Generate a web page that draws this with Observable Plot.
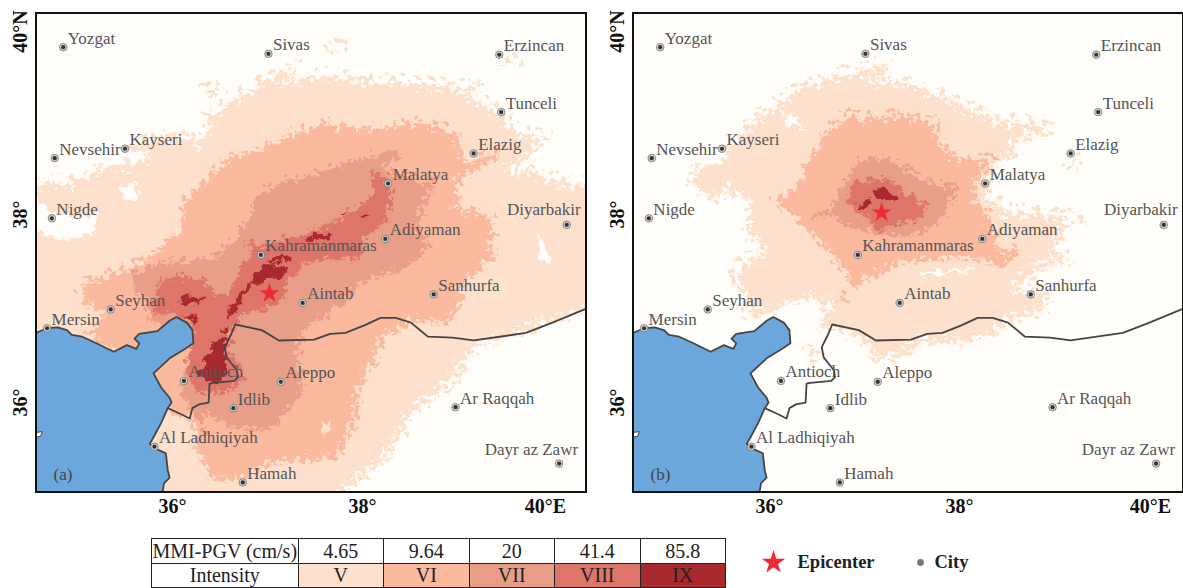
<!DOCTYPE html>
<html><head><meta charset="utf-8">
<script src="https://cdn.jsdelivr.net/npm/d3@7"></script>
<script src="https://cdn.jsdelivr.net/npm/@observablehq/plot@0.6"></script>
<style>
html,body{margin:0;padding:0;background:#fff;overflow:hidden;width:1183px;height:588px}
#row{position:absolute;left:0;top:0;display:flex}
.zone{filter:url(#rough)}
.speckA{filter:url(#speckA)}
.speckB{filter:url(#speckB)}
table{position:absolute;left:151px;top:537.5px;width:575px;border-collapse:collapse;font:20px/22px "Liberation Serif",serif;color:#222;table-layout:fixed}
td{border:1px solid #222;padding:0;height:24px;text-align:center;box-sizing:border-box;overflow:hidden}
td:first-child{width:146.5px;white-space:nowrap}
#keys{position:absolute;left:750px;top:540px}
</style></head><body>
<svg width="0" height="0" style="position:absolute">
<filter id="rough" x="-5%" y="-5%" width="110%" height="110%" color-interpolation-filters="sRGB"><feTurbulence type="fractalNoise" baseFrequency="0.13" numOctaves="3" seed="7" result="n"/><feDisplacementMap in="SourceGraphic" in2="n" scale="13" xChannelSelector="R" yChannelSelector="G"/></filter>
<filter id="speckA" x="-5%" y="-5%" width="110%" height="110%" color-interpolation-filters="sRGB"><feTurbulence type="fractalNoise" baseFrequency="0.2" numOctaves="2" seed="11" result="n"/><feDisplacementMap in="SourceGraphic" in2="n" scale="12" xChannelSelector="R" yChannelSelector="G" result="d"/><feColorMatrix in="n" type="matrix" values="0 0 0 0 0  0 0 0 0 0  0 0 0 0 0  14 0 0 0 -7.8" result="m"/><feComposite in="d" in2="m" operator="in"/></filter>
<filter id="speckB" x="-5%" y="-5%" width="110%" height="110%" color-interpolation-filters="sRGB"><feTurbulence type="fractalNoise" baseFrequency="0.16" numOctaves="2" seed="23" result="n"/><feDisplacementMap in="SourceGraphic" in2="n" scale="12" xChannelSelector="G" yChannelSelector="R" result="d"/><feColorMatrix in="n" type="matrix" values="0 0 0 0 0  0 0 0 0 0  0 0 0 0 0  14 0 0 0 -7.8" result="m"/><feComposite in="d" in2="m" operator="in"/></filter>
</svg>
<div id="row"></div>
<table id="tbl"></table>
<div id="keys"></div>
<script>
const cityNames=["Yozgat","Sivas","Erzincan","Tunceli","Elazig","Kayseri","Nevsehir","Malatya","Nigde","Diyarbakir","Adiyaman","Kahramanmaras","Aintab","Sanhurfa","Seyhan","Mersin","Antioch","Aleppo","Idlib","Ar Raqqah","Al Ladhiqiyah","Dayr az Zawr","Hamah"];
const cityLon=[34.85,37.01,39.44,39.46,39.17,35.50,34.76,38.27,34.73,40.15,38.24,36.93,37.37,38.75,35.35,34.68,36.12,37.14,36.64,38.98,35.81,40.07,36.74];
const cityLat=[39.78,39.71,39.70,39.09,38.65,38.70,38.60,38.33,37.96,37.89,37.74,37.57,37.06,37.15,36.99,36.79,36.23,36.22,35.94,35.95,35.53,35.35,35.15];

const coast=[[34.56,36.74],[34.68,36.79],[34.79,36.80],[34.89,36.77],[34.94,36.72],[35.05,36.70],[35.20,36.63],[35.38,36.54],[35.52,36.61],[35.62,36.57],[35.65,36.63],[35.60,36.68],[35.65,36.73],[35.84,36.76],[35.97,36.87],[36.04,36.91],[36.15,36.85],[36.21,36.77],[36.22,36.63],[36.13,36.57],[35.97,36.47],[35.80,36.31],[35.88,36.16],[35.97,36.05],[35.99,36.00],[35.95,35.94],[35.88,35.78],[35.80,35.63],[35.76,35.56],[35.82,35.51],[35.93,35.46],[35.95,35.28],[35.97,35.20],[35.91,35.14],[35.89,35.01]];
const seaClosure=[[34.4,35.01],[34.4,36.74]];
const islet=[[34.55,35.68],[34.63,35.69],[34.61,35.64],[34.55,35.63]];
const border=[[35.95,35.94],[36.08,35.88],[36.18,35.83],[36.21,35.94],[36.28,35.98],[36.38,36.00],[36.39,36.20],[36.43,36.21],[36.65,36.23],[36.69,36.27],[36.68,36.34],[36.57,36.48],[36.55,36.59],[36.61,36.71],[36.66,36.83],[36.94,36.77],[37.12,36.66],[37.49,36.67],[37.66,36.73],[37.82,36.74],[38.02,36.82],[38.19,36.90],[38.35,36.90],[38.51,36.85],[38.69,36.70],[38.95,36.69],[39.17,36.66],[39.72,36.74],[40.00,36.85],[40.36,37.00]];

// panel (a)
const aV=[[[34.45,38.29],[34.72,38.33],[35.00,38.36],[35.24,38.50],[35.60,38.54],[35.73,38.61],[35.53,38.71],[35.80,38.82],[36.08,38.84],[36.37,38.86],[36.37,39.03],[36.69,39.24],[37.01,39.46],[37.32,39.56],[37.18,39.43],[37.62,39.48],[38.06,39.43],[38.63,39.39],[39.23,39.34],[39.12,39.24],[39.43,39.11],[39.64,38.86],[39.92,38.82],[39.72,38.57],[39.56,38.50],[40.16,38.33],[40.46,38.33],[40.46,37.03],[39.76,36.77],[39.19,36.59],[38.95,36.23],[38.75,36.05],[38.51,35.88],[38.39,35.63],[38.22,35.38],[37.82,35.06],[37.62,34.90],[35.80,34.90],[34.45,34.90]],
[[36.33,39.32],[36.48,39.34],[36.42,39.27]],[[39.47,39.67],[39.64,39.61],[39.51,39.62]],[[37.66,39.79],[37.77,39.77],[37.68,39.76]]];
const aHoles=[[[34.45,38.26],[34.76,38.01],[35.04,37.97],[35.22,38.01],[35.16,37.80],[34.87,37.72],[34.63,37.81],[34.45,37.85]],[[35.44,38.29],[35.60,38.36],[35.66,38.18],[35.51,38.15]],[[39.84,37.80],[39.93,37.62],[39.98,37.48],[39.87,37.53]],[[36.21,38.76],[36.31,38.71],[36.24,38.68]]];
const aVI=[[[35.07,37.27],[35.68,37.48],[36.08,37.83],[36.13,38.15],[36.45,38.47],[36.61,38.61],[36.94,38.71],[37.25,38.86],[37.62,38.97],[38.06,38.91],[38.63,38.98],[38.99,38.86],[39.05,38.68],[39.12,38.57],[39.47,38.65],[39.22,38.49],[39.03,38.38],[38.99,38.07],[39.36,37.97],[39.38,37.54],[39.03,37.22],[39.07,37.09],[38.92,36.84],[38.55,36.87],[38.22,36.69],[38.15,36.48],[37.97,36.16],[37.91,35.73],[37.74,35.41],[37.38,35.38],[37.01,35.35],[36.74,35.17],[36.39,35.19],[36.28,35.46],[36.21,35.81],[35.97,35.91],[35.40,36.55],[35.12,36.73],[35.28,36.95],[35.03,37.09]]];
const aVPatch=[[[37.56,35.78],[37.66,35.81],[37.66,35.68],[37.56,35.66]]];
const aVII=[[[35.60,37.37],[35.80,37.48],[36.08,37.51],[36.45,37.54],[36.65,37.72],[36.85,38.01],[36.87,38.18],[37.18,38.36],[37.54,38.44],[38.02,38.61],[38.35,38.68],[38.43,38.65],[38.22,38.50],[38.51,38.39],[38.75,38.33],[38.67,38.15],[38.57,37.86],[38.72,37.69],[38.54,37.48],[38.29,37.37],[37.98,37.27],[37.84,37.09],[37.66,36.95],[37.38,36.77],[37.32,36.55],[37.38,36.13],[37.18,35.84],[36.98,35.70],[36.65,35.73],[36.37,35.88],[36.26,35.49],[36.33,35.73],[36.08,36.10],[36.19,36.48],[36.22,36.63],[35.77,36.87],[35.73,37.09],[35.60,37.19]]];
const aVIII=[[[38.08,38.44],[38.26,38.39],[38.31,38.15],[38.26,37.94],[38.12,37.83],[38.01,37.69],[37.98,37.51],[37.66,37.54],[37.38,37.46],[37.24,37.30],[37.17,37.09],[36.96,36.98],[36.75,36.95],[36.68,36.80],[36.59,36.73],[36.61,36.52],[36.77,36.23],[36.57,36.10],[36.28,36.10],[36.13,36.31],[36.21,36.59],[36.21,36.84],[36.01,36.95],[35.78,36.93],[35.84,37.12],[35.87,37.27],[36.01,37.35],[36.33,37.30],[36.47,37.12],[36.61,37.19],[36.72,37.40],[36.85,37.62],[36.75,37.70],[36.96,37.67],[37.24,37.76],[37.53,37.83],[37.80,37.97],[38.01,38.12],[38.11,38.22]]];
const aIX=[[[36.87,37.38],[37.06,37.48],[37.22,37.43],[37.11,37.32],[36.98,37.30],[36.91,37.24],[36.84,37.27],[36.79,37.16],[36.72,37.05],[36.59,36.90],[36.58,36.96],[36.68,37.11],[36.77,37.22],[36.84,37.32]],
[[36.48,36.71],[36.58,36.68],[36.54,36.52],[36.58,36.37],[36.51,36.23],[36.38,36.20],[36.27,36.31],[36.35,36.45],[36.40,36.55]],
[[36.06,37.09],[36.14,37.14],[36.22,37.12],[36.35,37.14],[36.29,37.06],[36.19,37.05],[36.08,37.06]],
[[36.11,36.90],[36.22,36.95],[36.24,36.84],[36.17,36.87]],
[[37.00,37.51],[37.14,37.56],[37.24,37.53],[37.26,37.48],[37.17,37.51],[37.03,37.48]],
[[37.38,37.74],[37.53,37.80],[37.69,37.81],[37.66,37.76],[37.53,37.72],[37.42,37.72]],
[[37.74,38.01],[37.84,38.04],[37.80,37.99]],[[37.98,37.97],[38.08,37.99],[38.01,37.94]],
[[36.54,36.80],[36.59,36.82],[36.56,36.73],[36.53,36.73]]];

// panel (b)
const bV=[[[35.16,38.36],[35.24,38.49],[35.47,38.57],[35.56,38.70],[35.86,39.03],[36.29,39.32],[36.65,39.46],[36.97,39.53],[37.16,39.59],[37.29,39.55],[37.13,39.43],[37.36,39.43],[37.75,39.29],[38.15,39.11],[38.45,39.00],[38.69,38.98],[38.95,38.89],[38.58,38.77],[38.61,38.61],[38.34,38.57],[38.38,38.39],[38.26,38.18],[38.49,38.04],[39.13,37.97],[39.26,37.91],[39.08,37.83],[39.01,37.62],[39.16,37.49],[38.85,37.44],[38.58,37.22],[38.93,37.16],[38.93,37.09],[38.88,36.95],[38.52,36.87],[38.29,36.69],[37.99,36.64],[37.59,36.63],[37.36,36.47],[37.13,36.45],[37.04,36.63],[36.73,36.77],[36.54,36.80],[36.58,36.95],[36.67,37.01],[36.61,37.03],[36.42,37.12],[36.22,37.05],[35.99,36.95],[35.77,36.93],[35.73,37.16],[35.61,37.30],[35.72,37.48],[35.95,37.62],[35.77,37.80],[35.79,38.12],[35.59,38.26],[35.40,38.15]],
[[36.43,36.63],[36.48,36.61],[36.48,36.45],[36.40,36.45]],[[39.14,38.52],[39.24,38.57],[39.18,38.50]]];
const bHoles=[[[36.11,39.11],[36.29,39.03],[36.38,38.89],[36.18,38.97]],[[37.56,37.38],[38.15,37.44],[38.15,37.39],[37.59,37.35]]];
const bVI=[[[36.06,38.15],[36.29,38.29],[36.42,38.57],[36.54,38.79],[36.81,39.07],[36.97,39.02],[37.36,39.05],[37.75,38.97],[37.79,38.79],[37.95,38.61],[38.34,38.57],[38.18,38.36],[38.18,38.15],[38.31,38.01],[38.38,37.80],[38.42,37.62],[38.61,37.62],[38.49,37.44],[38.34,37.48],[38.15,37.54],[37.67,37.51],[37.36,37.48],[36.88,37.22],[36.77,37.44],[36.58,37.65],[36.26,37.97]],
[[36.76,37.09],[36.83,37.14],[36.78,37.06]]];
const bVII=[[[36.47,37.94],[36.65,38.07],[36.77,38.29],[36.93,38.57],[37.20,38.61],[37.43,38.50],[37.59,38.39],[37.72,38.33],[37.99,38.29],[37.87,38.07],[37.77,37.86],[37.43,37.76],[37.13,37.80],[36.81,37.86],[36.65,38.01]]];
const bVIII=[[[36.81,38.15],[36.88,38.33],[37.08,38.36],[37.24,38.39],[37.36,38.29],[37.56,38.15],[37.67,38.07],[37.56,37.94],[37.28,37.86],[37.16,37.81],[37.08,37.94],[36.97,38.01]]];
const bIX=[[[37.08,38.26],[37.18,38.31],[37.24,38.29],[37.26,38.22],[37.36,38.18],[37.32,38.13],[37.20,38.17],[37.11,38.18]],[[36.93,38.12],[37.04,38.16],[37.11,38.12],[37.01,38.07],[36.95,38.07]]];

const epicenterA=[37.02,37.16];
const epicenterB=[37.18,38.02];
const xTicks=[36,38];
const yTicks=[36,38];
const intensity=["V","VI","VII","VIII","IX"];
const pgv=["4.65","9.64","20","41.4","85.8"];
const colors=["#fde1cd","#fbb99d","#e99e87","#dd7669","#a92a2e"];
const white="#fffefb", sea="#6ca7dc", ink="#454545";

const rows=(rings)=>rings.flatMap((r,i)=>r.map(p=>({ring:i,lon:p[0],lat:p[1]})));
const zone=(rings,fill)=>Plot.line(rows(rings),{x:"lon",y:"lat",z:"ring",fill,stroke:"none",curve:"linear-closed",clip:true,className:"zone"});
const fringe=(rings,color,cls,w)=>Plot.line(rows(rings),{x:"lon",y:"lat",z:"ring",fill:"none",stroke:color,strokeWidth:w,curve:"linear-closed",clip:true,className:cls});
const cities=cityNames.map((name,i)=>({name,lon:cityLon[i],lat:cityLat[i]}));
const farEast=["Diyarbakir","Dayr az Zawr"];
const serif="Liberation Serif";
const labelStyle={text:"name",fontFamily:serif,fontSize:17,fill:"#555",style:"letter-spacing:.65px"};

function panel(zones,holes,patch,epi,tag,dx40){
  const axisFont={fontFamily:serif,fontSize:20,fontWeight:"bold",fill:"#111"};
  return Plot.plot({
    width:597,height:520,marginLeft:35.5,marginRight:11.5,marginTop:12.5,marginBottom:28.5,
    x:{domain:[34.563,40.353],axis:null},y:{domain:[35.048,40.144],axis:null},
    style:{background:"transparent",overflow:"visible"},
    marks:[
      Plot.frame({fill:white,stroke:"none"}),
      zone(zones[0],colors[0]),
      fringe(zones[0],colors[0],"speckB",14),
      zone(holes,white),
      fringe(zones[0],white,"speckA",14),
      zone(zones[1],colors[1]),
      fringe(zones[1],colors[1],"speckB",10),
      fringe(zones[1],colors[0],"speckA",10),
      zone(patch,colors[0]),
      zone(zones[2],colors[2]),
      fringe(zones[2],colors[2],"speckB",7),
      fringe(zones[2],colors[1],"speckA",7),
      zone(zones[3],colors[3]),
      fringe(zones[3],colors[3],"speckB",5),
      fringe(zones[3],colors[2],"speckA",5),
      zone(zones[4],colors[4]),
      Plot.line(rows([coast.concat(seaClosure)]),{x:"lon",y:"lat",fill:sea,stroke:"none",curve:"linear-closed",clip:true}),
      Plot.line(rows([coast]),{x:"lon",y:"lat",stroke:ink,strokeWidth:1.8,clip:true}),
      Plot.line(rows([islet]),{x:"lon",y:"lat",fill:white,stroke:ink,strokeWidth:1,curve:"linear-closed",clip:true}),
      Plot.line(rows([border]),{x:"lon",y:"lat",stroke:ink,strokeWidth:1.8,clip:true}),
      Plot.dot(cities,{x:"lon",y:"lat",r:3.8,fill:"#cfcfcf",stroke:"#777",strokeWidth:.8}),
      Plot.dot(cities,{x:"lon",y:"lat",r:2.1,fill:"#333",stroke:"none"}),
      Plot.text(cities.filter(d=>!farEast.includes(d.name)),{x:"lon",y:"lat",textAnchor:"start",dx:4.5,dy:-9,...labelStyle}),
      Plot.text(cities.filter(d=>d.name==="Diyarbakir"),{x:"lon",y:"lat",textAnchor:"end",dx:14,dy:-15,...labelStyle}),
      Plot.text(cities.filter(d=>d.name==="Dayr az Zawr"),{x:"lon",y:"lat",textAnchor:"end",dx:19,dy:-14,...labelStyle}),
      Plot.dot([epi],{x:d=>d[0],y:d=>d[1],symbol:"star",r:6.2,fill:"#ee2a32",stroke:"none"}),
      Plot.text([tag],{frameAnchor:"bottom-left",dx:17.5,dy:-12,fontFamily:serif,fontSize:17,fill:"#444",text:d=>d}),
      Plot.frame({stroke:"#111",strokeWidth:2}),
      Plot.axisX(xTicks,{tickSize:0,tickPadding:7,tickFormat:d=>d+"°",label:null,...axisFont}),
      Plot.axisX([40],{tickSize:0,tickPadding:7,tickFormat:d=>d+"°E",label:null,dx:dx40,...axisFont}),
      Plot.axisY(yTicks,{tickSize:0,tickPadding:15,tickFormat:d=>d+"°",label:null,textAnchor:"middle",rotate:-90,...axisFont}),
      Plot.axisY([40],{tickSize:0,tickPadding:15,tickFormat:d=>d+"°N",label:null,textAnchor:"middle",rotate:-90,dy:5,...axisFont})
    ]
  });
}
const row=document.getElementById("row");
row.append(panel([aV,aVI,aVII,aVIII,aIX],aHoles,aVPatch,epicenterA,"(a)",-7));
row.append(panel([bV,bVI,bVII,bVIII,bIX],bHoles,[],epicenterB,"(b)",1));

document.getElementById("tbl").innerHTML=
 "<tr style='height:25px'><td>MMI-PGV (cm/s)</td>"+pgv.map(v=>`<td>${v}</td>`).join("")+"</tr>"+
 "<tr style='height:24px'><td>Intensity</td>"+intensity.map((v,i)=>`<td style="background:${colors[i]}">${v}</td>`).join("")+"</tr>";

document.getElementById("keys").append(Plot.plot({
  width:240,height:44,margin:0,style:{background:"transparent"},
  marks:[
    Plot.dot([0],{frameAnchor:"left",dx:23,symbol:"star",r:7.4,fill:"#ee2a32",stroke:"none"}),
    Plot.text(["Epicenter"],{frameAnchor:"left",dx:47,fontFamily:serif,fontSize:18.5,fontWeight:"bold",fill:"#222",text:d=>d,style:"letter-spacing:.6px"}),
    Plot.dot([0],{frameAnchor:"left",dx:170,r:3.4,fill:"#777",stroke:"none"}),
    Plot.text(["City"],{frameAnchor:"left",dx:184,fontFamily:serif,fontSize:18.5,fontWeight:"bold",fill:"#222",text:d=>d,style:"letter-spacing:.6px"})
  ]
}));
</script></body></html>
